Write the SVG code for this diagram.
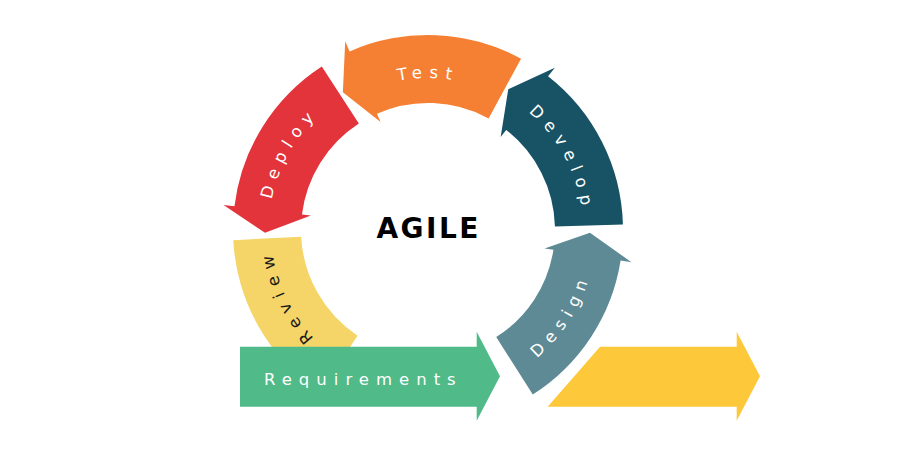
<svg xmlns="http://www.w3.org/2000/svg" xmlns:xlink="http://www.w3.org/1999/xlink" width="906" height="460" viewBox="0 0 906 460">
  <style>
    .lbl { font-family: "DejaVu Sans", "Liberation Sans", sans-serif; font-size: 16.5px; letter-spacing: 7px; fill: #ffffff; }
    .dark { fill: #1a1a1a; }
    .title { font-family: "DejaVu Sans", "Liberation Sans", sans-serif; font-size: 28px; font-weight: bold; letter-spacing: 2.5px; fill: #000000; }
  </style>
  <defs>
    <path id="pTest" d="M330.30,113.56 A152,152 0 0 1 525.70,113.56"/>
    <path id="pDevelop" d="M486.06,86.29 A155,155 0 0 1 579.61,262.23"/>
    <path id="pDeploy" d="M271.92,260.34 A159,159 0 0 1 371.02,81.56"/>
    <path id="pReview" d="M361.65,372.29 A157,157 0 0 1 276.35,189.37"/>
    <path id="pDesign" d="M477.96,390.40 A168,168 0 0 0 594.64,208.65"/>
  </defs>
  <rect width="906" height="460" fill="#ffffff"/>
  <g id="connectors"/>
  <g id="review">
    <path d="M233.27,240.21 L301.17,236.65 A127,127 0 0 0 357.54,335.66 L319.81,392.23 A195,195 0 0 1 233.27,240.21 Z" fill="#F5D468"/>
    <text class="lbl dark"><textPath xlink:href="#pReview" href="#pReview" startOffset="50%" text-anchor="middle">Review</textPath></text>
  </g>
  <g id="deploy">
    <path d="M358.83,123.49 L321.80,66.46 A195,195 0 0 0 234.45,206.24 L223.53,204.89 L265.02,232.84 L310.88,215.62 L301.95,214.52 A127,127 0 0 1 358.83,123.49 Z" fill="#E3333B"/>
    <text class="lbl"><textPath xlink:href="#pDeploy" href="#pDeploy" startOffset="50%" text-anchor="middle">Deploy</textPath></text>
  </g>
  <g id="test">
    <path d="M488.60,118.39 L521.05,58.63 A195,195 0 0 0 349.62,51.45 L345.20,41.37 L342.87,92.17 L380.57,121.95 L376.95,113.71 A127,127 0 0 1 488.60,118.39 Z" fill="#F58033"/>
    <text class="lbl"><textPath xlink:href="#pTest" href="#pTest" startOffset="50%" text-anchor="middle">Test</textPath></text>
  </g>
  <g id="develop">
    <path d="M554.95,226.45 L622.92,224.56 A195,195 0 0 0 548.05,76.34 L554.83,67.67 L508.26,89.28 L500.65,137.01 L506.19,129.92 A127,127 0 0 1 554.95,226.45 Z" fill="#185365"/>
    <text class="lbl"><textPath xlink:href="#pDevelop" href="#pDevelop" startOffset="50%" text-anchor="middle">Develop</textPath></text>
  </g>
  <g id="design">
    <path d="M496.24,337.11 L532.77,394.46 A195,195 0 0 0 620.60,260.50 L631.46,262.22 L589.98,232.83 L544.55,248.46 L553.44,249.87 A127,127 0 0 1 496.24,337.11 Z" fill="#5E8A95"/>
    <text class="lbl"><textPath xlink:href="#pDesign" href="#pDesign" startOffset="50%" text-anchor="middle">Design</textPath></text>
  </g>
  <g id="requirements">
    <path d="M240,346.7 L476.7,346.7 L476.7,331.7 L500,376.3 L476.7,420.7 L476.7,406.7 L240,406.7 Z" fill="#50BA89"/>
    <text class="lbl" x="264" y="385">Requirements</text>
  </g>
  <g id="next">
    <path d="M547.7,406.7 L600,346.7 L736.7,346.7 L736.7,331.7 L760,376.3 L736.7,420.7 L736.7,406.7 Z" fill="#FEC83B"/>
  </g>
  <g id="agile">
    <text class="title" x="428.7" y="238.3" text-anchor="middle">AGILE</text>
  </g>
</svg>
